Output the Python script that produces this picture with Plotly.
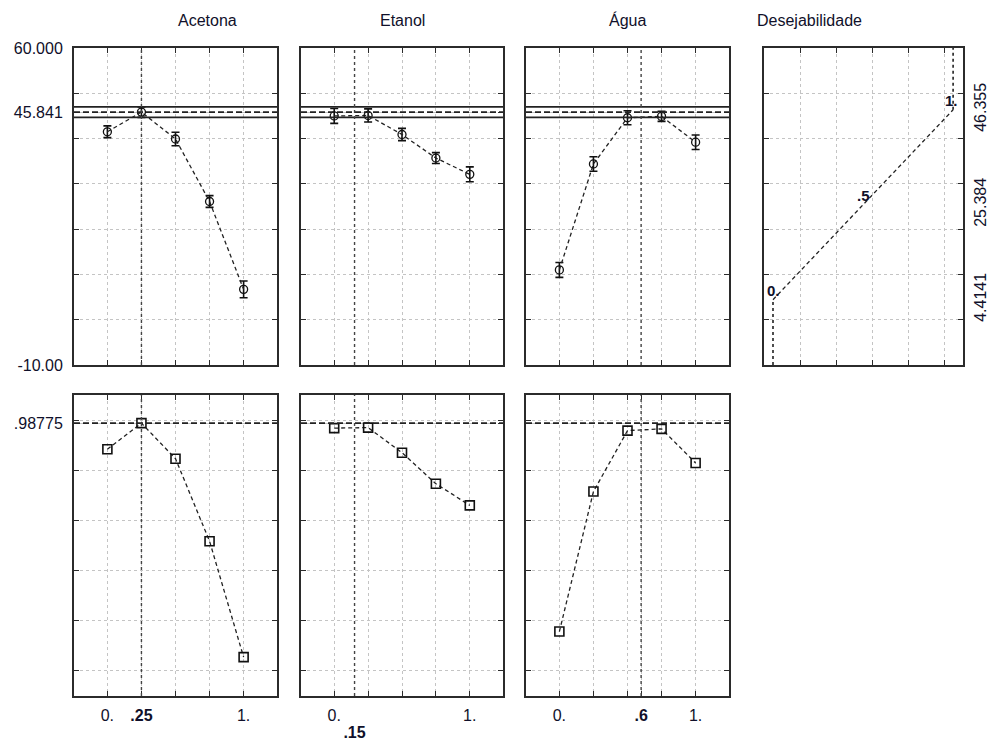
import plotly.graph_objects as go

# ---- data -------------------------------------------------------------
levels = [0, 0.25, 0.5, 0.75, 1]
factor_names = ["Acetona", "Etanol", "Água"]
current_settings = [0.25, 0.15, 0.6]
current_labels = [".25", ".15", ".6"]
# the Etanol setting label sits on a second line below the others
current_label_lowered = [False, True, False]

# predicted response profiles (top row) with confidence half-widths
resp_acetona = [41.5, 45.841, 39.9, 26.1, 6.7]
resp_etanol = [45.0, 45.1, 40.9, 35.7, 32.1]
resp_agua = [11.0, 34.4, 44.6, 44.9, 39.2]

err_acetona = [1.3, 1.15, 1.5, 1.3, 1.85]
err_etanol = [1.65, 1.45, 1.35, 1.2, 1.65]
err_agua = [1.65, 1.6, 1.55, 1.1, 1.6]

# desirability profiles (bottom row)
desir_acetona = [0.884, 0.98775, 0.846, 0.517, 0.055]
desir_etanol = [0.968, 0.970, 0.870, 0.746, 0.660]
desir_agua = [0.157, 0.715, 0.958, 0.965, 0.829]

predicted = 45.841
ci_low, ci_high = 44.69, 46.99
overall_desir = 0.98775

# desirability function of the response
desir_fn_d = [0, 0.5, 1]
desir_fn_y = [4.4141, 25.384, 46.355]
desir_fn_labels = ["0.", ".5", "1."]
desir_fn_ticks = ["4.4141", "25.384", "46.355"]

resp_range = [-10, 60]
resp_grid = [-10, 0, 10, 20, 30, 40, 45.841, 50, 60]
resp_grid_text = ["-10.00", "", "", "", "", "", "45.841", "", "60.000"]
des_range = [-0.1, 1.1]
des_grid = [0, 0.2, 0.4, 0.6, 0.8, 0.98775, 1.0]
des_grid_text = ["", "", "", "", "", ".98775", ""]

# ---- layout geometry --------------------------------------------------
W, H = 994, 742
FONT = "Arial, Liberation Sans, sans-serif"
TXT = "#10102a"
col_px = [(74, 277), (301, 503), (526, 729), (764, 963)]
row_px = [(48, 365), (395, 696)]
xdom = [[a / W, b / W] for a, b in col_px]
ydom = [[1 - b / H, 1 - a / H] for a, b in row_px]


def ax(letter, n):
    """Short axis id as used by traces and shapes ('x', 'x2', ...)."""
    return letter if n == 1 else f"{letter}{n}"


def lay(letter, n):
    """Layout key of an axis ('xaxis', 'xaxis2', ...)."""
    return f"{letter}axis" if n == 1 else f"{letter}axis{n}"


def frame(**kw):
    base = dict(
        showline=True, linecolor="#2b2b2b", linewidth=2, mirror="ticks",
        ticks="inside", ticklen=5, tickwidth=1.2, tickcolor="#2b2b2b",
        showgrid=True, gridcolor="#c4c4c4", griddash="dot", gridwidth=1,
        zeroline=False, fixedrange=True, automargin=False,
        tickfont=dict(family=FONT, size=16, color=TXT),
    )
    base.update(kw)
    return base


fig = go.Figure()
layout = {}
shapes = []
annotations = []

profiles = [
    (resp_acetona, err_acetona, desir_acetona),
    (resp_etanol, err_etanol, desir_etanol),
    (resp_agua, err_agua, desir_agua),
]

LINE_DASH = "4px,3px"
REF_DASH = "6px,3px"

xr = [-0.245, 1.245]
extra_axis = 9
for i, (resp, err, des) in enumerate(profiles):
    top, bot = i + 1, i + 5
    xt, yt, xb, yb = ax("x", top), ax("y", top), ax("x", bot), ax("y", bot)
    # top row: predicted response
    fig.add_trace(go.Scatter(
        x=levels, y=resp, mode="lines+markers",
        error_y=dict(type="data", array=err, color="#111", thickness=1.6, width=4),
        line=dict(color="#222", width=1.3, dash=LINE_DASH),
        marker=dict(symbol="circle-open", size=8, color="#111", line=dict(width=1.3)),
        xaxis=xt, yaxis=yt, showlegend=False, hoverinfo="skip"))
    # bottom row: desirability
    fig.add_trace(go.Scatter(
        x=levels, y=des, mode="lines+markers",
        line=dict(color="#222", width=1.3, dash=LINE_DASH),
        marker=dict(symbol="square-open", size=9, color="#111", line=dict(width=1.6)),
        xaxis=xb, yaxis=yb, showlegend=False, hoverinfo="skip"))

    layout[lay("x", top)] = frame(domain=xdom[i], range=xr, anchor=yt,
                                  tickvals=levels, showticklabels=False)
    layout[lay("y", top)] = frame(domain=ydom[0], range=resp_range, anchor=xt,
                                  tickvals=resp_grid, ticktext=resp_grid_text,
                                  showticklabels=(i == 0), ticklabelstandoff=6)

    setting_label = f"<b>{current_labels[i]}</b>"
    if current_label_lowered[i]:
        tv = list(levels)
        tt = ["0." if v == 0 else "1." if v == 1 else "" for v in tv]
        # second-line label for the current setting on an overlaid axis
        xo = ax("x", extra_axis)
        layout[lay("x", extra_axis)] = dict(
            overlaying=xb, anchor=yb, side="bottom", range=xr,
            tickvals=[current_settings[i]], ticktext=[setting_label],
            showgrid=False, showline=False, ticks="", zeroline=False,
            fixedrange=True, automargin=False, ticklabelstandoff=25,
            tickfont=dict(family=FONT, size=16, color=TXT))
        fig.add_trace(go.Scatter(x=[None], y=[None], xaxis=xo, yaxis=yb,
                                 showlegend=False, hoverinfo="skip"))
        extra_axis += 1
    else:
        tv = sorted(set(levels + [current_settings[i]]))
        tt = []
        for v in tv:
            if v == current_settings[i]:
                tt.append(setting_label)
            elif v == 0:
                tt.append("0.")
            elif v == 1:
                tt.append("1.")
            else:
                tt.append("")
    layout[lay("x", bot)] = frame(domain=xdom[i], range=xr, anchor=yb,
                                  tickvals=tv, ticktext=tt, ticklabelstandoff=4)
    layout[lay("y", bot)] = frame(domain=ydom[1], range=des_range, anchor=xb,
                                  tickvals=des_grid, ticktext=des_grid_text,
                                  showticklabels=(i == 0), ticklabelstandoff=6)

    # reference lines: predicted value, its confidence band, current setting
    for yv, dash in [(predicted, REF_DASH), (ci_low, "solid"), (ci_high, "solid")]:
        shapes.append(dict(type="line", xref=f"{xt} domain", yref=yt,
                           x0=0, x1=1, y0=yv, y1=yv,
                           line=dict(color="#222", width=1.6, dash=dash)))
    shapes.append(dict(type="line", xref=f"{xb} domain", yref=yb,
                       x0=0, x1=1, y0=overall_desir, y1=overall_desir,
                       line=dict(color="#222", width=1.6, dash=REF_DASH)))
    for xa, ya in ((xt, yt), (xb, yb)):
        shapes.append(dict(type="line", xref=xa, yref=f"{ya} domain",
                           x0=current_settings[i], x1=current_settings[i], y0=0, y1=1,
                           line=dict(color="#444", width=1.4, dash="dot")))

    annotations.append(dict(text=factor_names[i], xref="paper", yref="paper",
                            x=sum(xdom[i]) / 2, y=1 - 20 / H, yanchor="middle",
                            showarrow=False,
                            font=dict(family=FONT, size=16, color=TXT)))

# ---- desirability function panel ---------------------------------------
fig.add_trace(go.Scatter(
    x=desir_fn_d, y=desir_fn_y, mode="lines",
    line=dict(color="#222", width=1.3, dash=LINE_DASH),
    xaxis="x4", yaxis="y4", showlegend=False, hoverinfo="skip"))
fig.add_trace(go.Scatter(
    x=[desir_fn_d[0], desir_fn_d[0]], y=[resp_range[0], desir_fn_y[0]], mode="lines",
    line=dict(color="#222", width=1.6, dash="dot"),
    xaxis="x4", yaxis="y4", showlegend=False, hoverinfo="skip"))
fig.add_trace(go.Scatter(
    x=[desir_fn_d[-1], desir_fn_d[-1]], y=[desir_fn_y[-1], resp_range[1]], mode="lines",
    line=dict(color="#222", width=1.6, dash="dot"),
    xaxis="x4", yaxis="y4", showlegend=False, hoverinfo="skip"))
# carrier for the right-hand response axis
fig.add_trace(go.Scatter(x=[None], y=[None], xaxis="x4", yaxis="y8",
                         showlegend=False, hoverinfo="skip"))

layout["xaxis4"] = frame(domain=xdom[3], range=[-0.05, 1.055], anchor="y4",
                         tickvals=[0.15, 0.35, 0.55, 0.75, 0.95], showticklabels=False)
layout["yaxis4"] = frame(domain=ydom[0], range=resp_range, anchor="x4",
                         tickvals=[0, 10, 20, 30, 40, 50], showticklabels=False)
layout["yaxis8"] = dict(overlaying="y4", anchor="x4", side="right", range=resp_range,
                        tickvals=desir_fn_y, ticktext=desir_fn_ticks, tickangle=-90,
                        showgrid=False, showline=False, ticks="", zeroline=False,
                        fixedrange=True, automargin=False, ticklabelstandoff=6,
                        tickfont=dict(family=FONT, size=16, color=TXT))

for d, yv, lab in zip(desir_fn_d, desir_fn_y, desir_fn_labels):
    annotations.append(dict(text=f"<b>{lab}</b>", xref="x4", yref="y4", x=d, y=yv,
                            yshift=9, xshift=-2 if d == 1 else 0, showarrow=False,
                            font=dict(family=FONT, size=15, color=TXT)))
annotations.append(dict(text="Desejabilidade", xref="paper", yref="paper",
                        x=sum(xdom[3]) / 2, y=1 - 20 / H, yanchor="middle",
                        showarrow=False,
                        font=dict(family=FONT, size=16, color=TXT)))

fig.update_layout(
    width=W, height=H, margin=dict(l=0, r=0, t=0, b=0, autoexpand=False),
    paper_bgcolor="white", plot_bgcolor="white",
    shapes=shapes, annotations=annotations, showlegend=False,
    **layout,
)

fig.write_html("out.html")
